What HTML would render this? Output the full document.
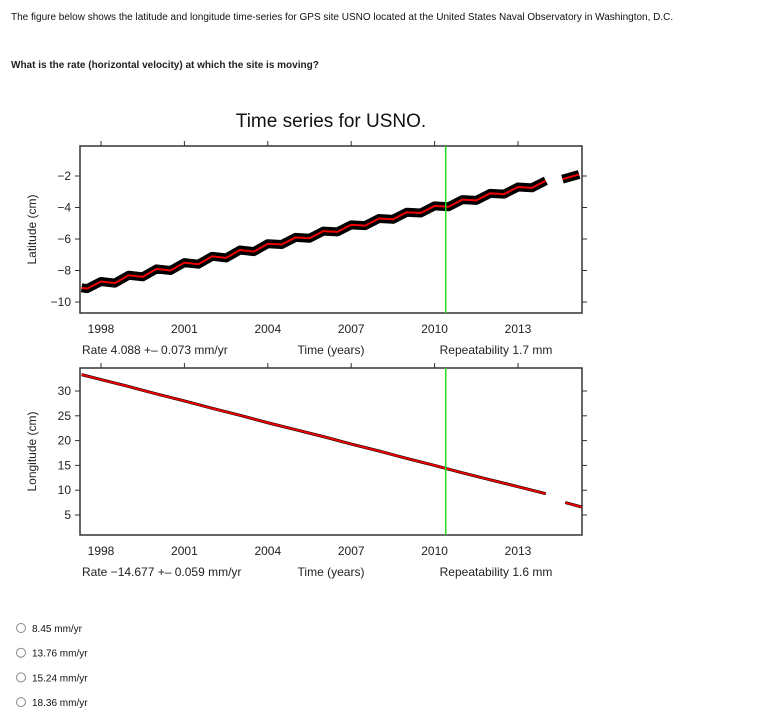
<!DOCTYPE html>
<html><head><meta charset="utf-8"><style>
body{margin:0;background:#fff;width:767px;height:717px;overflow:hidden;font-family:"Liberation Sans",Arial,sans-serif}
svg{position:absolute;left:0;top:0}
</style></head><body>
<svg id="s" width="767" height="717" viewBox="0 0 767 717" font-family="Liberation Sans, Arial, sans-serif">
<text x="11" y="20" font-size="10" fill="#111">The figure below shows the latitude and longitude time-series for GPS site USNO located at the United States Naval Observatory in Washington, D.C.</text>
<text x="11" y="68" font-size="10" font-weight="bold" fill="#222">What is the rate (horizontal velocity) at which the site is moving?</text>
<text x="331" y="127" font-size="19" text-anchor="middle" fill="#111">Time series for USNO.</text>
<g id="top"></g>
<g id="bot"></g>
<g id="opts"></g>
</svg>
<script>
const years=[1998,2001,2004,2007,2010,2013];
const latTimes=[1997.3,1997.5,1998,1998.5,1999,1999.5,2000,2000.5,2001,2001.5,2002,2002.5,2003,2003.5,2004,2004.5,2005,2005.5,2006,2006.5,2007,2007.5,2008,2008.5,2009,2009.5,2010,2010.5,2011,2011.5,2012,2012.5,2013,2013.5,2014];
const latValues=[-9.1,-9.15,-8.7,-8.8,-8.3,-8.4,-7.9,-8.0,-7.5,-7.6,-7.1,-7.2,-6.7,-6.8,-6.3,-6.35,-5.9,-5.95,-5.5,-5.55,-5.1,-5.15,-4.7,-4.75,-4.3,-4.35,-3.9,-3.95,-3.5,-3.55,-3.1,-3.15,-2.7,-2.75,-2.3];
const latTimes2=[2014.6,2015.2];
const latValues2=[-2.2,-1.9];
const latTicks=[-2,-4,-6,-8,-10];
const lonTimes=[1997.3,1998,1999,2000,2001,2002,2003,2004,2005,2006,2007,2008,2009,2010,2011,2012,2013,2014];
const lonValues=[33.3,32.3,30.9,29.4,28.0,26.5,25.1,23.6,22.2,20.8,19.3,17.9,16.4,15.0,13.5,12.1,10.7,9.3];
const lonTimes2=[2014.7,2015.3];
const lonValues2=[7.5,6.6];
const lonTicks=[30,25,20,15,10,5];
const options=["8.45 mm/yr","13.76 mm/yr","15.24 mm/yr","18.36 mm/yr"];
const NS="http://www.w3.org/2000/svg";
function mk(p,tag,a,txt){const e=document.createElementNS(NS,tag);for(const k in a)e.setAttribute(k,a[k]);if(txt!=null)e.textContent=txt;p.appendChild(e);return e;}
const X0=80,X1=582;
const xs=t=>101+(t-1998)*27.8;
function panel(g,top,bottom,ys,ticks,times,vals,times2,vals2,ylab,rate,rep,bw){
  mk(g,'rect',{x:X0,y:top,width:X1-X0,height:bottom-top,fill:'none',stroke:'#333','stroke-width':1.5});
  years.forEach(y=>{const x=xs(y);
    let t=mk(g,'line',{x1:x,x2:x,y1:top-5,y2:top,stroke:'#333'});
    let l=mk(g,'text',{x:x,y:bottom+20,'font-size':12,'text-anchor':'middle',fill:'#222'},y);
    });
  ticks.forEach(v=>{const y=ys(v);
    let t=mk(g,'line',{x1:X0-5,x2:X0,y1:y,y2:y,stroke:'#333'});
    mk(g,'line',{x1:X1,x2:X1+5,y1:y,y2:y,stroke:'#333'});
    let l=mk(g,'text',{x:X0-9,y:y+4,'font-size':12,'text-anchor':'end',fill:'#222'},v<0?'\u2212'+(-v):v);
    });
  let yl=mk(g,'text',{x:0,y:0,'font-size':12,'text-anchor':'middle',fill:'#222',transform:`translate(36,${(top+bottom)/2}) rotate(-90)`},ylab);
  
  [[times,vals],[times2,vals2]].forEach(([tt,vv])=>{
    const pts=tt.map((t,i)=>xs(t)+','+ys(vv[i])).join(' ');
    let b=mk(g,'polyline',{points:pts,fill:'none',stroke:'#000','stroke-width':bw,'stroke-linejoin':'round'});
    
    let r=mk(g,'polyline',{points:pts,fill:'none',stroke:'#e00','stroke-width':2});
    });
  let gl=mk(g,'line',{x1:xs(2010.4),x2:xs(2010.4),y1:top,y2:bottom,stroke:'#2d2','stroke-width':1.5});
  
  let a=mk(g,'text',{x:X0+2,y:bottom+41,'font-size':12,fill:'#222'},rate);
  let b=mk(g,'text',{x:331,y:bottom+41,'font-size':12,'text-anchor':'middle',fill:'#222'},'Time (years)');
  let c=mk(g,'text',{x:496,y:bottom+41,'font-size':12,'text-anchor':'middle',fill:'#222'},rep);
}
panel(document.getElementById('top'),146,313,v=>176+(-2-v)*15.75,latTicks,latTimes,latValues,latTimes2,latValues2,'Latitude (cm)','Rate 4.088 +\u2013 0.073 mm/yr','Repeatability 1.7 mm',9);
panel(document.getElementById('bot'),368,535,v=>391+(30-v)*4.96,lonTicks,lonTimes,lonValues,lonTimes2,lonValues2,'Longitude (cm)','Rate \u221214.677 +\u2013 0.059 mm/yr','Repeatability 1.6 mm',3);
const og=document.getElementById('opts');
options.forEach((o,i)=>{const y=628+i*24.7;
  const g=mk(og,'g',{});
  
  
  mk(g,'circle',{cx:21,cy:y,r:4.5,fill:'#fff',stroke:'#888'});
  mk(g,'text',{x:32,y:y+4,'font-size':10,fill:'#111'},o);});
</script>
</body></html>
